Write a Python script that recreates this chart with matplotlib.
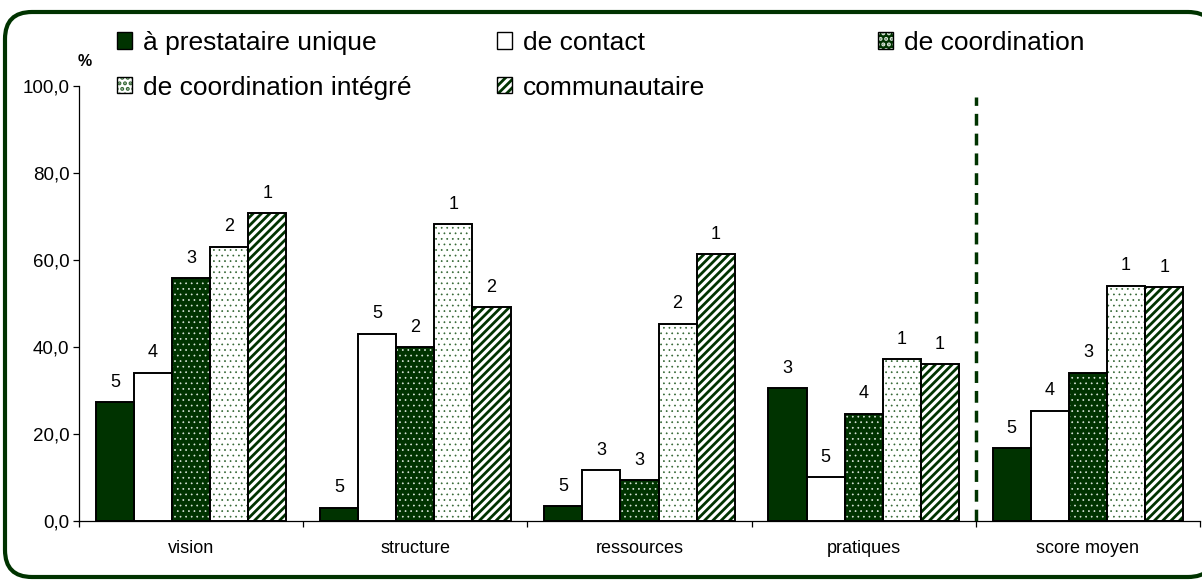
import matplotlib
matplotlib.use('Agg')
import matplotlib.pyplot as plt
from matplotlib.patches import FancyBboxPatch, Rectangle
from matplotlib.legend_handler import HandlerTuple
from matplotlib.ticker import FuncFormatter, FixedLocator

plt.rcParams['font.family'] = ['Liberation Sans', 'DejaVu Sans']

# data (percent) and the rank printed above each bar
categories = ['vision', 'structure', 'ressources', 'pratiques', 'score moyen']
series = ['à prestataire unique', 'de contact', 'de coordination',
          'de coordination intégré', 'communautaire']

prestataire_unique = [27.4, 3.1, 3.4, 30.5, 16.8]
contact = [34.1, 43.1, 11.7, 10.1, 25.4]
coordination = [55.8, 40.0, 9.4, 24.7, 34.1]
coordination_integre = [63.1, 68.3, 45.4, 37.2, 54.1]
communautaire = [70.8, 49.1, 61.3, 36.0, 53.7]

rank_prestataire = [5, 5, 5, 3, 5]
rank_contact = [4, 5, 3, 5, 4]
rank_coordination = [3, 2, 3, 4, 3]
rank_integre = [2, 1, 2, 1, 1]
rank_communautaire = [1, 2, 1, 1, 1]

values = [prestataire_unique, contact, coordination, coordination_integre, communautaire]
ranks = [rank_prestataire, rank_contact, rank_coordination, rank_integre, rank_communautaire]

green = '#003300'
# face, hatch, hatch colour, hatch linewidth
styles = [
    (green, None, green, 1.0),
    ('white', None, 'black', 1.0),
    (green, '...', '#dde8dd', 0.5),
    ('white', '...', '#336633', 0.5),
    ('white', '////', green, 2.0),
]

fig = plt.figure(figsize=(12.02, 5.8), dpi=100)

# rounded green frame (clipped on the right like the original)
frame = FancyBboxPatch((0.05, 0.03), 12.1, 5.65,
                       boxstyle='round,pad=0,rounding_size=0.27',
                       transform=fig.dpi_scale_trans, facecolor='white',
                       edgecolor=green, linewidth=3.0, zorder=-5)
fig.patches.append(frame)

ax = fig.add_axes([79 / 1202, 59 / 580, 1121 / 1202, 435 / 580])
ax.patch.set_visible(False)

width = 0.17
handles = []
for k, (vals, rk, st) in enumerate(zip(values, ranks, styles)):
    face, hatch, hcol, hlw = st
    xs = [i + (k - 2) * width for i in range(len(categories))]
    plt.rcParams['hatch.linewidth'] = hlw
    fill = ax.bar(xs, vals, width, color=face, edgecolor=hcol, linewidth=0,
                  hatch=hatch, zorder=2)
    ax.bar(xs, vals, width, fill=False, edgecolor='black', linewidth=1.4, zorder=3)
    for x, v, r in zip(xs, vals, rk):
        ax.annotate(str(r), (x, v), xytext=(0, 11), textcoords='offset points',
                    ha='center', va='baseline', fontsize=13)
    p1 = Rectangle((0, 0), 1, 1, facecolor=face, edgecolor=hcol, linewidth=0, hatch=hatch)
    p2 = Rectangle((0, 0), 1, 1, fill=False, edgecolor='black', linewidth=1.0)
    handles.append((p1, p2))

# separator before the mean score
ax.plot([3.5, 3.5], [0, 97.5], color=green, linewidth=2.5,
        dashes=(3.4, 2.3), zorder=1, clip_on=False)

ax.set_xlim(-0.5, 4.5)
ax.set_ylim(0, 100)
ax.spines['top'].set_visible(False)
ax.spines['right'].set_visible(False)
ax.spines['left'].set_linewidth(0.9)
ax.spines['bottom'].set_linewidth(0.9)

ax.xaxis.set_major_locator(FixedLocator([-0.5, 0.5, 1.5, 2.5, 3.5, 4.5]))
ax.xaxis.set_minor_locator(FixedLocator(range(len(categories))))
ax.set_xticklabels([], minor=False)
ax.set_xticklabels(categories, minor=True)
ax.tick_params(axis='x', which='major', direction='out', length=4, width=0.9)
ax.tick_params(axis='x', which='minor', length=0, pad=14, labelsize=13)

ax.set_yticks([0, 20, 40, 60, 80, 100])
ax.yaxis.set_major_formatter(FuncFormatter(lambda v, p: f'{v:.1f}'.replace('.', ',')))
ax.tick_params(axis='y', direction='out', length=4, width=0.9, pad=3, labelsize=13.5)

fig.text(85 / 1202, 1 - 62 / 580, '%', ha='center', va='center',
         fontsize=11.5, fontweight='bold')

# legend: three columns placed like the original
cols = [([0, 3], 117), ([1, 4], 497), ([2], 878)]
for idx, xpix in cols:
    leg = fig.legend([handles[i] for i in idx], [series[i] for i in idx],
                     loc='upper left', bbox_to_anchor=(xpix / 1202, 1 - 31 / 580),
                     frameon=False, fontsize=19, handlelength=0.58, handleheight=0.58,
                     handletextpad=0.4, labelspacing=0.78, borderpad=0, borderaxespad=0,
                     handler_map={tuple: HandlerTuple(ndivide=1, pad=0)})

fig.savefig('out.png', dpi=100)
